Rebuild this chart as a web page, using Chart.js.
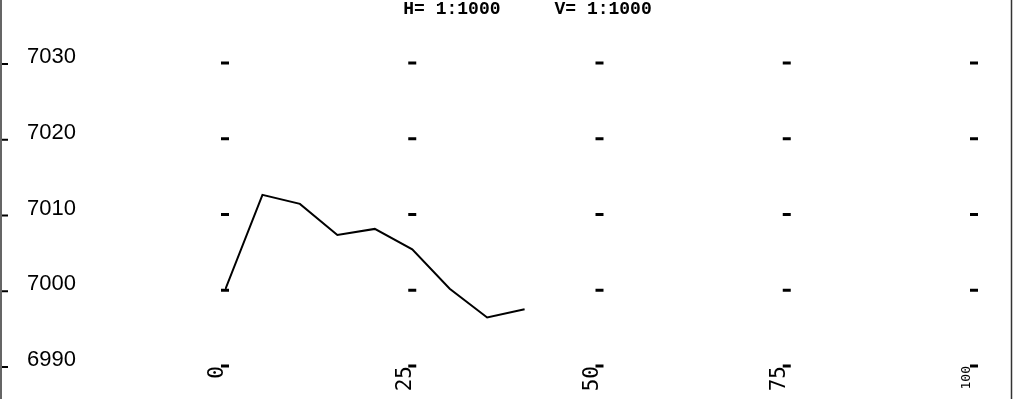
<!DOCTYPE html>
<html>
<head>
<meta charset="utf-8">
<script src="https://cdn.jsdelivr.net/npm/chart.js@4"></script>
<style>
  html, body { margin: 0; padding: 0; background: #fff; }
  canvas { display: block; }
</style>
</head>
<body>
<canvas id="profile-chart" width="1016" height="399"></canvas>
<script>
// chainage (horizontal) and level (vertical) of the surveyed profile
let chainage = [0, 5, 10, 15, 20, 25, 30, 35, 40];
let levels = [7000, 7012.6, 7011.4, 7007.3, 7008.1, 7005.4, 7000.2, 6996.4, 6997.5];

// tick values on both axes
let xTicks = [0, 25, 50, 75, 100];
let yTicks = [6990, 7000, 7010, 7020, 7030];

let titleText = '     H= 1:1000     V= 1:1000';

// a small dash at every crossing of the tick values
let gridMarks = [];
xTicks.forEach(x => yTicks.forEach(y => gridMarks.push({ x: x, y: y })));

// frame lines on the page edges and short marks on the left edge
let framePlugin = {
  id: 'frame',
  afterDraw(chart) {
    let ctx = chart.ctx;
    let yScale = chart.scales.y;
    ctx.save();
    ctx.strokeStyle = '#333';
    ctx.lineWidth = 1.5;
    ctx.beginPath();
    ctx.moveTo(1, 0); ctx.lineTo(1, chart.height);
    ctx.moveTo(chart.width - 4.5, 0); ctx.lineTo(chart.width - 4.5, chart.height);
    ctx.stroke();
    ctx.strokeStyle = '#000';
    ctx.lineWidth = 2;
    yTicks.forEach(v => {
      let py = yScale.getPixelForValue(v) + 1;
      ctx.beginPath(); ctx.moveTo(2, py); ctx.lineTo(8, py); ctx.stroke();
    });
    ctx.restore();
  }
};

let canvasElement = document.getElementById('profile-chart');

let config = {
  type: 'scatter',
  data: {
    datasets: [
      {
        // the profile line
        data: chainage.map((x, i) => ({ x: x, y: levels[i] })),
        showLine: true,
        borderColor: '#000',
        borderWidth: 2,
        pointRadius: 0,
        tension: 0
      },
      {
        // dotted grid
        data: gridMarks,
        showLine: false,
        clip: false,
        pointStyle: 'line',
        pointRadius: 4,
        pointBorderWidth: 3,
        pointBorderColor: '#000',
        pointBackgroundColor: '#000'
      }
    ]
  },
  options: {
    responsive: false,
    animation: false,
    layout: { padding: { left: 27, right: 42, top: 0, bottom: 0 } },
    plugins: {
      legend: { display: false },
      tooltip: { enabled: false },
      title: {
        display: true,
        text: titleText,
        color: '#000',
        font: { family: 'Liberation Mono', size: 18, weight: 'bold', lineHeight: 1 },
        padding: { top: 0, bottom: 45 }
      }
    },
    scales: {
      x: {
        type: 'linear',
        min: 0,
        max: 100,
        afterBuildTicks: scale => { scale.ticks = xTicks.map(v => ({ value: v })); },
        afterFit: scale => { scale.height = 33; },
        grid: { display: false, drawTicks: false },
        border: { display: false },
        ticks: {
          minRotation: 90,
          maxRotation: 90,
          padding: 0,
          labelOffset: -7,
          color: '#000',
          callback: v => String(v),
          font: ctx => ({
            family: 'DejaVu Sans Mono',
            size: ctx.tick && ctx.tick.value === 100 ? 13 : 21
          })
        }
      },
      y: {
        min: 6990,
        max: 7030,
        afterBuildTicks: scale => { scale.ticks = yTicks.map(v => ({ value: v })); },
        afterFit: scale => { scale.width = 198; },
        grid: { display: false, drawTicks: false },
        border: { display: false },
        ticks: {
          crossAlign: 'far',
          labelOffset: -6,
          color: '#000',
          callback: v => String(v),
          font: { family: 'Liberation Sans', size: 22 }
        }
      }
    }
  },
  plugins: [framePlugin]
};

let profileChart = new Chart(canvasElement, config);
</script>
</body>
</html>
